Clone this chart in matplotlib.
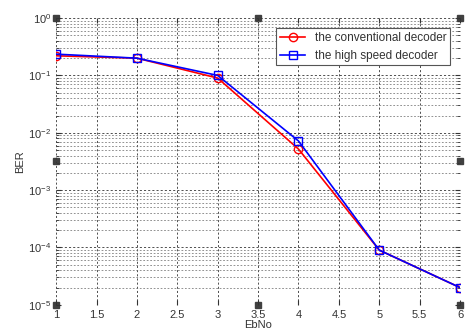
import matplotlib.pyplot as plt
import numpy as np

ebno = [1, 2, 3, 4, 5, 6]
ber_conv = [0.22, 0.20, 0.090, 0.0052, 9.0e-5, 2.0e-5]
ber_fast = [0.235, 0.20, 0.100, 0.0072, 9.0e-5, 2.0e-5]

# stray black squares drawn at the plot edges
mark_x = [1, 3.5, 6, 1, 6, 1, 3.5, 6]
mark_y = [1.0, 1.0, 1.0, 10**-2.5, 10**-2.5, 1e-5, 1e-5, 1e-5]

plt.rcParams['font.family'] = ['Liberation Sans', 'DejaVu Sans']
fig = plt.figure(figsize=(4.68, 3.35), dpi=100)
ax = fig.add_axes([0.12, 0.09, 0.863, 0.856])

ax.semilogy(mark_x, mark_y, linestyle="none", marker="s", color="#404040",
            markersize=5, clip_on=False, zorder=1)
ax.semilogy(ebno, ber_conv, color="red", marker="o", markerfacecolor="none",
            markersize=6, linewidth=1.2, label="the conventional decoder", zorder=3)
ax.semilogy(ebno, ber_fast, color="blue", marker="s", markerfacecolor="none",
            markersize=6, linewidth=1.2, label="the high speed decoder", zorder=4)

ax.set_xlim(1, 6)
ax.set_ylim(1e-5, 1)
ax.set_xticks(np.arange(1, 6.01, 0.5))
ax.set_xticklabels(["1", "1.5", "2", "2.5", "3", "3.5", "4", "4.5", "5", "5.5", "6"])
ax.grid(True, which="major", color="#333333", linestyle=(0, (2.5, 2.5)), linewidth=0.6)
ax.grid(True, which="minor", color="#666666", linestyle=(0, (2.5, 2.5)), linewidth=0.5)
ax.tick_params(which="both", direction="in", top=True, right=True,
               labelsize=8, labelcolor="#333333", color="#333333")
ax.set_xlabel("EbNo", fontsize=8, color="#333333", labelpad=0)
ax.set_ylabel("BER", fontsize=8, color="#333333", labelpad=2)
for s in ax.spines.values():
    s.set_visible(False)

leg = ax.legend(loc="upper right", fontsize=8.5, fancybox=False, framealpha=1,
                edgecolor="#555555", borderpad=0.3, handlelength=2.2,
                bbox_to_anchor=(0.99, 0.985))
leg.get_frame().set_linewidth(0.8)
for t in leg.get_texts():
    t.set_color("#333333")

fig.savefig("out.png", dpi=100)
